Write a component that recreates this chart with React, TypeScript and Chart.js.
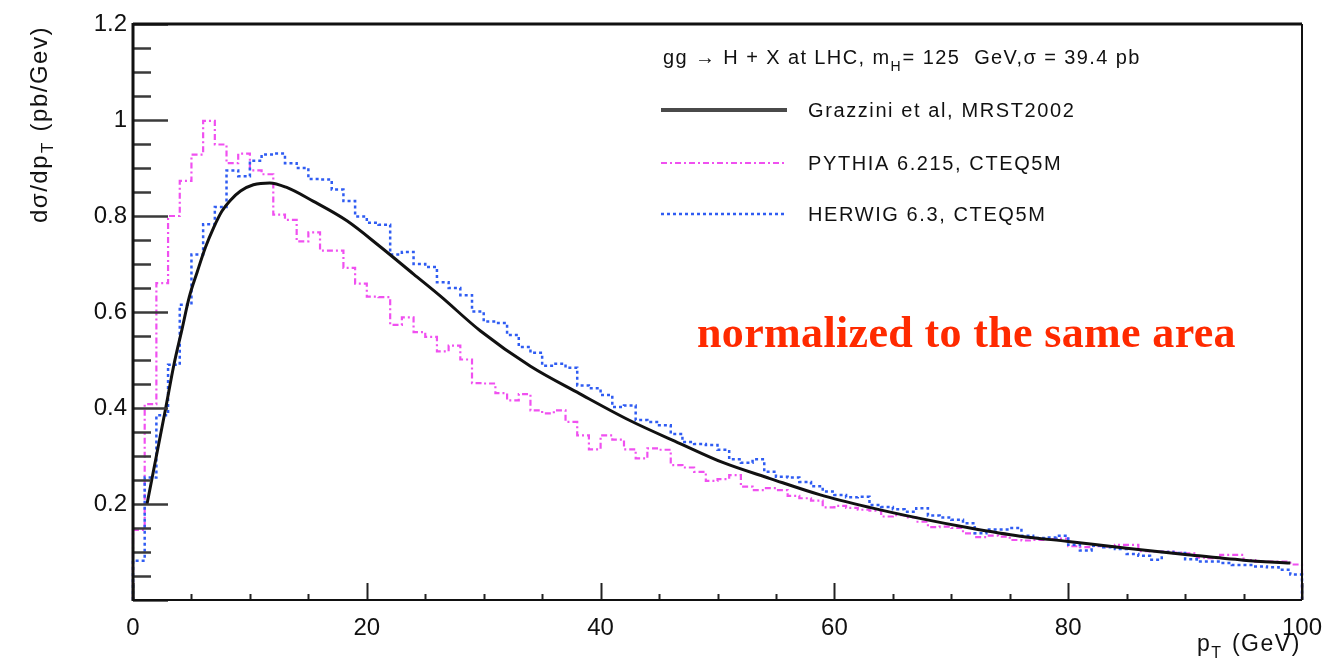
import React, { useEffect, useRef } from "react";
import { Chart, registerables } from "chart.js";

Chart.register(...registerables);

// ---------------- data ----------------
const BIN_WIDTH = 1; // GeV, bins start at 0

// PYTHIA 6.215, CTEQ5M (1 GeV bins, 0..100)
const pythiaValues = [
  0.146, 0.408, 0.66, 0.8, 0.873, 0.928, 0.998, 0.949, 0.91, 0.93,
  0.895, 0.887, 0.803, 0.792, 0.747, 0.766, 0.728, 0.728, 0.692, 0.659,
  0.632, 0.631, 0.573, 0.589, 0.558, 0.548, 0.518, 0.53, 0.501, 0.452,
  0.451, 0.431, 0.416, 0.429, 0.395, 0.389, 0.395, 0.371, 0.343, 0.314,
  0.343, 0.334, 0.314, 0.295, 0.316, 0.313, 0.281, 0.276, 0.267, 0.248,
  0.252, 0.26, 0.236, 0.229, 0.233, 0.229, 0.217, 0.212, 0.207, 0.193,
  0.196, 0.192, 0.188, 0.186, 0.174, 0.177, 0.172, 0.163, 0.152, 0.153,
  0.15, 0.139, 0.131, 0.134, 0.132, 0.125, 0.124, 0.125, 0.127, 0.128,
  0.112, 0.11, 0.112, 0.111, 0.115, 0.115, 0.102, 0.101, 0.101, 0.099,
  0.097, 0.088, 0.087, 0.094, 0.094, 0.083, 0.08, 0.08, 0.08, 0.074,
];

// HERWIG 6.3, CTEQ5M (1 GeV bins, 0..100)
const herwigValues = [
  0.082, 0.255, 0.385, 0.49, 0.615, 0.72, 0.783, 0.819, 0.895, 0.883,
  0.915, 0.928, 0.93, 0.91, 0.9, 0.877, 0.876, 0.855, 0.831, 0.799,
  0.786, 0.782, 0.72, 0.725, 0.7, 0.694, 0.662, 0.65, 0.635, 0.601,
  0.58, 0.577, 0.552, 0.527, 0.515, 0.488, 0.492, 0.484, 0.447, 0.441,
  0.427, 0.402, 0.405, 0.375, 0.371, 0.364, 0.346, 0.329, 0.325, 0.323,
  0.313, 0.293, 0.286, 0.293, 0.267, 0.257, 0.255, 0.246, 0.237, 0.226,
  0.219, 0.214, 0.215, 0.198, 0.194, 0.189, 0.184, 0.191, 0.176, 0.172,
  0.167, 0.16, 0.139, 0.147, 0.147, 0.15, 0.134, 0.129, 0.13, 0.134,
  0.115, 0.103, 0.113, 0.11, 0.106, 0.096, 0.092, 0.084, 0.1, 0.098,
  0.085, 0.08, 0.08, 0.077, 0.073, 0.073, 0.07, 0.068, 0.063, 0.053,
];

// Grazzini et al, MRST2002 (smooth curve)
const grazziniPt = [
  1.2, 2.0, 2.8, 3.5, 4.2, 4.8, 5.5, 6.2, 6.9, 7.6, 8.3, 9.2, 10.3, 11.7,
  13.1, 15.4, 18.3, 21.1, 24.0, 26.3, 29.7, 34.0, 38.2, 42.5, 46.8, 50.5,
  54.5, 58.8, 63.0, 67.3, 71.6, 75.9, 80, 85, 90, 95, 99,
];
const grazziniValues = [
  0.2, 0.3, 0.4, 0.49, 0.565, 0.63, 0.684, 0.735, 0.776, 0.81, 0.832, 0.852,
  0.865, 0.869, 0.86, 0.831, 0.79, 0.737, 0.679, 0.633, 0.561, 0.487, 0.43,
  0.374, 0.326, 0.286, 0.253, 0.219, 0.193, 0.17, 0.15, 0.133, 0.122, 0.108,
  0.095, 0.083, 0.077,
];

const legendTitleParts = ["gg \u2192 H + X at LHC, m", "H", "= 125  GeV,\u03c3 = 39.4 pb"];
const seriesLabels = ["Grazzini et al, MRST2002", "PYTHIA 6.215, CTEQ5M", "HERWIG 6.3, CTEQ5M"];
const annotationText = "normalized to the same area";

const FONT = '"Liberation Sans", Arial, Helvetica, sans-serif';

function histPoints(values: number[]) {
  const pts: { x: number; y: number }[] = [{ x: 0, y: 0 }];
  values.forEach((v, i) => pts.push({ x: i * BIN_WIDTH, y: v }));
  pts.push({ x: values.length * BIN_WIDTH, y: 0 });
  return pts;
}

function drawText(
  ctx: CanvasRenderingContext2D,
  s: string,
  x: number,
  y: number,
  font: string,
  color: string,
  spacing = 0
) {
  ctx.save();
  ctx.font = font;
  ctx.fillStyle = color;
  ctx.textAlign = "left";
  ctx.textBaseline = "alphabetic";
  (ctx as any).letterSpacing = spacing + "px";
  ctx.fillText(s, x, y);
  const w = ctx.measureText(s).width;
  ctx.restore();
  return w;
}

const rootStyle = {
  id: "rootStyle",
  afterDatasetsDraw(chart: any) {
    const ctx: CanvasRenderingContext2D = chart.ctx;
    const { left, right, top, bottom } = chart.chartArea;
    const xs = chart.scales.x;
    const ys = chart.scales.y;
    ctx.save();

    // inward ticks on y axis
    ctx.strokeStyle = "#3a3a3a";
    ctx.lineWidth = 2.5;
    for (let k = 0; k <= 24; k++) {
      const py = Math.round(ys.getPixelForValue(k * 0.05)) + 0.5;
      const len = k % 4 === 0 ? 35 : 18;
      ctx.beginPath();
      ctx.moveTo(left, py);
      ctx.lineTo(left + len, py);
      ctx.stroke();
    }
    // inward ticks on x axis
    ctx.strokeStyle = "#222";
    ctx.lineWidth = 2;
    for (let k = 0; k <= 20; k++) {
      const px = Math.round(xs.getPixelForValue(k * 5)) + 0.5;
      const len = k % 4 === 0 ? 17 : 6;
      ctx.beginPath();
      ctx.moveTo(px, bottom);
      ctx.lineTo(px, bottom - len);
      ctx.stroke();
    }

    // frame
    ctx.strokeStyle = "#111";
    ctx.lineWidth = 3;
    ctx.beginPath();
    ctx.moveTo(left, top);
    ctx.lineTo(right, top);
    ctx.stroke();
    ctx.beginPath();
    ctx.moveTo(left, top - 1);
    ctx.lineTo(left, bottom + 1);
    ctx.stroke();
    ctx.lineWidth = 2;
    ctx.beginPath();
    ctx.moveTo(left, bottom);
    ctx.lineTo(right, bottom);
    ctx.stroke();
    ctx.beginPath();
    ctx.moveTo(right, top);
    ctx.lineTo(right, bottom);
    ctx.stroke();

    // y axis title (rotated, aligned to top)
    ctx.save();
    ctx.translate(47, 223);
    ctx.rotate(-Math.PI / 2);
    let w = drawText(ctx, "d\u03c3/dp", 0, 0, `24px ${FONT}`, "#111", 1.5);
    w += drawText(ctx, "T", w + 1, 6, `17px ${FONT}`, "#111", 1);
    drawText(ctx, " (pb/Gev)", w + 3, 0, `24px ${FONT}`, "#111", 1.5);
    ctx.restore();

    // x axis title
    {
      const x0 = 1197;
      let wx = drawText(ctx, "p", x0, 651, `23px ${FONT}`, "#111", 1.5);
      wx += drawText(ctx, "T", x0 + wx, 658, `16px ${FONT}`, "#111", 1);
      drawText(ctx, " (GeV)", x0 + wx + 2, 651, `23px ${FONT}`, "#111", 1.5);
    }

    // legend
    {
      const lx = 663;
      let t = drawText(ctx, legendTitleParts[0], lx, 64, `20px ${FONT}`, "#111", 1.4);
      t += drawText(ctx, legendTitleParts[1], lx + t, 71, `14px ${FONT}`, "#111", 1);
      drawText(ctx, legendTitleParts[2], lx + t + 1, 64, `20px ${FONT}`, "#111", 1.4);

      const rows = [110, 163, 214];
      chart.data.datasets.forEach((ds: any, i: number) => {
        const yy = rows[i];
        ctx.save();
        ctx.strokeStyle = i === 0 ? "#4a4a4a" : ds.borderColor;
        ctx.lineWidth = i === 0 ? 4 : ds.borderWidth;
        ctx.setLineDash(ds.borderDash || []);
        ctx.beginPath();
        ctx.moveTo(661, yy);
        ctx.lineTo(787, yy);
        ctx.stroke();
        ctx.restore();
        drawText(ctx, ds.label, 808, yy + 7, `20px ${FONT}`, "#111", 1.6);
      });
    }

    // red annotation
    drawText(
      ctx,
      annotationText,
      697,
      347,
      `bold 44px "Liberation Serif", "Times New Roman", serif`,
      "#ff2a00",
      0.35
    );

    ctx.restore();
  },
};

export default function App() {
  const canvasRef = useRef<HTMLCanvasElement | null>(null);

  useEffect(() => {
    const canvas = canvasRef.current;
    if (!canvas) return;
    const chart = new Chart(canvas, {
      type: "line",
      data: {
        datasets: [
          {
            label: seriesLabels[0],
            data: grazziniPt.map((x, i) => ({ x, y: grazziniValues[i] })),
            borderColor: "#111111",
            borderWidth: 3,
            pointRadius: 0,
            cubicInterpolationMode: "monotone",
            fill: false,
            order: 0,
            clip: false,
          } as any,
          {
            label: seriesLabels[1],
            data: histPoints(pythiaValues),
            borderColor: "#f050f0",
            borderWidth: 2.2,
            borderDash: [6, 3, 2, 3],
            pointRadius: 0,
            stepped: true,
            fill: false,
            order: 2,
            clip: false,
          } as any,
          {
            label: seriesLabels[2],
            data: histPoints(herwigValues),
            borderColor: "#2f5cf2",
            borderWidth: 2.5,
            borderDash: [3, 3],
            pointRadius: 0,
            stepped: true,
            fill: false,
            order: 1,
            clip: false,
          } as any,
        ],
      },
      options: {
        animation: false,
        responsive: true,
        maintainAspectRatio: false,
        layout: { padding: { left: 0, top: 24, right: 25, bottom: 0 } },
        plugins: {
          legend: { display: false },
          tooltip: { enabled: false },
          title: { display: false },
        },
        scales: {
          x: {
            type: "linear",
            min: 0,
            max: 100,
            grid: { display: false, drawTicks: false },
            border: { display: false },
            ticks: {
              stepSize: 20,
              padding: 14,
              autoSkip: false,
              maxRotation: 0,
              color: "#111",
              font: { family: FONT, size: 24 },
              callback: (v: any) => String(Math.round(Number(v))),
            },
            afterFit: (s: any) => {
              s.height = 60;
              s.paddingLeft = 0;
              s.paddingRight = 0;
            },
          },
          y: {
            type: "linear",
            min: 0,
            max: 1.2,
            grid: { display: false, drawTicks: false },
            border: { display: false },
            ticks: {
              stepSize: 0.2,
              padding: 6,
              color: "#111",
              font: { family: FONT, size: 24 },
              callback: (v: any) => {
                const n = Math.round(Number(v) * 10) / 10;
                return n === 0 ? "" : String(n);
              },
            },
            afterFit: (s: any) => {
              s.width = 133;
              s.paddingTop = 0;
              s.paddingBottom = 0;
            },
          },
        },
      } as any,
      plugins: [rootStyle],
    });
    return () => chart.destroy();
  }, []);

  return (
    <div
      style={{
        position: "fixed",
        left: 0,
        top: 0,
        width: 1327,
        height: 660,
        background: "#fff",
      }}
    >
      <canvas ref={canvasRef} />
    </div>
  );
}
